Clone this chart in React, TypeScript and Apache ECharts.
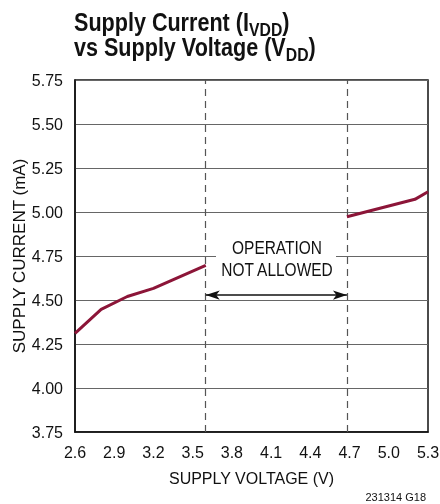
import React, { useEffect, useRef } from "react";
import * as echarts from "echarts";

const voltageLow = [2.6, 2.8, 3.0, 3.2, 3.6];
const currentLow = [4.31, 4.447, 4.52, 4.566, 4.697];
const voltageHigh = [4.68, 5.2, 5.3];
const currentHigh = [4.973, 5.072, 5.115];
const forbiddenBounds = [3.6, 4.68];
const arrowLevel = 4.528;
const xTicks = { min: 2.6, max: 5.3, step: 0.3 };
const yTicks = { min: 3.75, max: 5.75, step: 0.25 };

const FONT = "'Liberation Sans', Arial, sans-serif";
const LINE = "#8c1538";

const titleRich = {
  t: { fontSize: 26, fontWeight: "bold", fontFamily: FONT, fill: "#111", lineHeight: 21, verticalAlign: "bottom", padding: [0, 0, 4, 0] },
  s: { fontSize: 19, fontWeight: "bold", fontFamily: FONT, fill: "#111", lineHeight: 19, verticalAlign: "bottom" },
};

export default function App() {
  const ref = useRef<HTMLDivElement>(null);
  useEffect(() => {
    if (!ref.current) return;
    const chart = echarts.init(ref.current, undefined, { renderer: "svg" });
    const low = voltageLow.map((v, i) => [v, currentLow[i]]);
    const high = voltageHigh.map((v, i) => [v, currentHigh[i]]);
    chart.setOption({
      animation: false,
      textStyle: { fontFamily: FONT },
      grid: {
        left: 75, right: 12, top: 80, bottom: 72, outerBoundsMode: "none", containLabel: false,
        show: true, borderColor: "#111", borderWidth: 1.5, backgroundColor: "transparent",
      },
      xAxis: {
        type: "value", min: xTicks.min, max: xTicks.max, interval: xTicks.step,
        name: "SUPPLY VOLTAGE (V)", nameLocation: "middle", nameGap: 38,
        nameTextStyle: { fontSize: 16, color: "#111", fontFamily: FONT },
        axisLine: { show: true, lineStyle: { color: "#111", width: 1.5 } },
        axisTick: { show: false },
        splitLine: { show: false },
        axisLabel: { fontSize: 16, color: "#111", margin: 12, fontFamily: FONT, formatter: (v: number) => v.toFixed(1) },
      },
      yAxis: {
        type: "value", min: yTicks.min, max: yTicks.max, interval: yTicks.step,
        name: "SUPPLY CURRENT (mA)", nameLocation: "middle", nameGap: 47, nameMoveOverlap: false,
        nameTextStyle: { fontSize: 17, color: "#111", fontFamily: FONT },
        axisLine: { show: true, lineStyle: { color: "#111", width: 1.5 } },
        axisTick: { show: false },
        splitLine: { show: true, lineStyle: { color: "#666", width: 1 } },
        axisLabel: { fontSize: 16, color: "#111", margin: 12, fontFamily: FONT, formatter: (v: number) => v.toFixed(2) },
      },
      series: [
        {
          type: "line", data: low, showSymbol: false, lineStyle: { color: LINE, width: 3 }, z: 5,
          markLine: {
            silent: true, symbol: ["none", "none"], label: { show: false },
            lineStyle: { color: "#555", type: [7, 5], width: 1.2 },
            data: forbiddenBounds.map((x) => ({ xAxis: x })),
          },
        },
        {
          type: "line", data: high, showSymbol: false, lineStyle: { color: LINE, width: 3 }, z: 5,
          markLine: {
            silent: true, symbol: ["arrow", "arrow"], symbolSize: [7, 14], label: { show: false },
            lineStyle: { color: "#111", type: "solid", width: 1.5 },
            data: [[{ coord: [forbiddenBounds[0], arrowLevel] }, { coord: [forbiddenBounds[1], arrowLevel] }]],
          },
        },
      ],
      graphic: [
        {
          type: "text", x: 74, y: 17.5, scaleX: 0.83, z: 100,
          style: { rich: titleRich, text: "{t|Supply Current (I}{s|VDD}{t|)}" },
        },
        {
          type: "text", x: 74, y: 42.5, scaleX: 0.83, z: 100,
          style: { rich: titleRich, text: "{t|vs Supply Voltage (V}{s|DD}{t|)}" },
        },
        { type: "rect", z: 100, shape: { x: 216, y: 240, width: 120, height: 40 }, style: { fill: "#fff" } },
        {
          type: "text", z: 101, x: 277, y: 259, scaleX: 0.86,
          style: {
            text: "OPERATION\nNOT ALLOWED", fontSize: 18, fontFamily: FONT, fill: "#111",
            align: "center", verticalAlign: "middle", lineHeight: 22,
          },
        },
        {
          type: "text", z: 101, right: 14, bottom: 2,
          style: { text: "231314 G18", fontSize: 11, fontFamily: FONT, fill: "#111" },
        },
      ],
    });
    return () => chart.dispose();
  }, []);
  return <div ref={ref} style={{ position: "fixed", left: 0, top: 0, width: 440, height: 504 }} />;
}
